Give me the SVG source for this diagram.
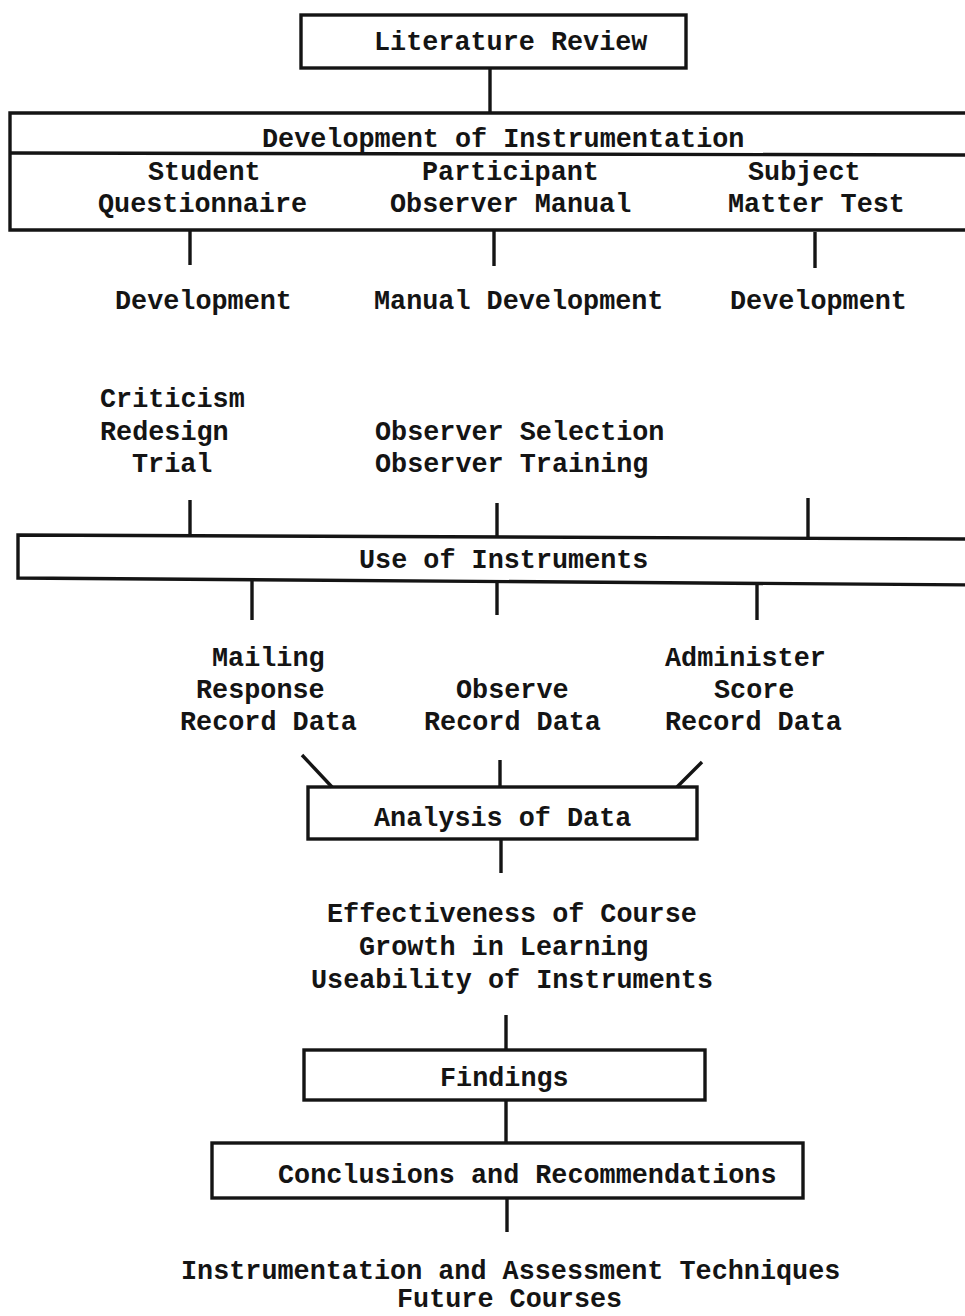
<svg xmlns="http://www.w3.org/2000/svg" width="965" height="1316" viewBox="0 0 965 1316">
<style>
text{font-family:"Liberation Mono","DejaVu Sans Mono",monospace;font-size:26.8px;font-weight:bold;fill:#141414}
.b{fill:#fff;stroke:#141414;stroke-width:3.4}
.c line{stroke:#141414;stroke-width:3.4}
</style>
<rect width="965" height="1316" fill="#fff"/>
<g id="literature-review"><rect class="b" x="301" y="15" width="385" height="53"/><text x="374" y="50">Literature Review</text></g>
<g id="development-of-instrumentation">
<path class="b" d="M980 113 H10 V230 H980"/>
<line x1="10" y1="153" x2="965" y2="155" stroke="#141414" stroke-width="3.4"/>
<text x="262" y="147">Development of Instrumentation</text>
<text x="148" y="180">Student</text><text x="98" y="212">Questionnaire</text>
<text x="422" y="180">Participant</text><text x="390" y="212">Observer Manual</text>
<text x="748" y="180">Subject</text><text x="728" y="212">Matter Test</text>
</g>
<g id="development-steps">
<text x="115" y="309">Development</text><text x="374" y="309">Manual Development</text><text x="730" y="309">Development</text>
<text x="100" y="407">Criticism</text><text x="100" y="440">Redesign</text><text x="132" y="472">Trial</text>
<text x="375" y="440">Observer Selection</text><text x="375" y="472">Observer Training</text>
</g>
<g id="use-of-instruments"><path class="b" d="M980 539 L18 535 V578 L980 585"/><text x="359" y="568">Use of Instruments</text></g>
<g id="use-steps">
<text x="212" y="666">Mailing</text><text x="196" y="698">Response</text><text x="180" y="730">Record Data</text>
<text x="456" y="698">Observe</text><text x="424" y="730">Record Data</text>
<text x="665" y="666">Administer</text><text x="714" y="698">Score</text><text x="665" y="730">Record Data</text>
</g>
<g id="analysis-of-data"><rect class="b" x="308" y="787" width="389" height="52"/><text x="374" y="826">Analysis of Data</text></g>
<g id="outcomes">
<text x="327" y="922">Effectiveness of Course</text><text x="359" y="955">Growth in Learning</text><text x="311" y="988">Useability of Instruments</text>
</g>
<g id="findings"><rect class="b" x="304" y="1050" width="401" height="50"/><text x="440" y="1086">Findings</text></g>
<g id="conclusions"><rect class="b" x="212" y="1143" width="591" height="55"/><text x="278" y="1183">Conclusions and Recommendations</text></g>
<g id="final"><text x="181" y="1279">Instrumentation and Assessment Techniques</text><text x="397" y="1307">Future Courses</text></g>
<g class="c" id="connectors">
<line x1="490" y1="68" x2="490" y2="113"/>
<line x1="190" y1="230" x2="190" y2="265"/>
<line x1="494" y1="230" x2="494" y2="266"/>
<line x1="815" y1="232" x2="815" y2="268"/>
<line x1="190" y1="500" x2="190" y2="537"/>
<line x1="497" y1="503" x2="497" y2="536"/>
<line x1="808" y1="498" x2="808" y2="537"/>
<line x1="252" y1="580" x2="252" y2="620"/>
<line x1="497" y1="583" x2="497" y2="615"/>
<line x1="757" y1="585" x2="757" y2="620"/>
<line x1="302" y1="755" x2="332" y2="787"/>
<line x1="500" y1="760" x2="500" y2="787"/>
<line x1="702" y1="762" x2="677" y2="787"/>
<line x1="501" y1="839" x2="501" y2="873"/>
<line x1="506" y1="1015" x2="506" y2="1050"/>
<line x1="506" y1="1100" x2="506" y2="1143"/>
<line x1="507" y1="1198" x2="507" y2="1232"/>
</g>
</svg>
